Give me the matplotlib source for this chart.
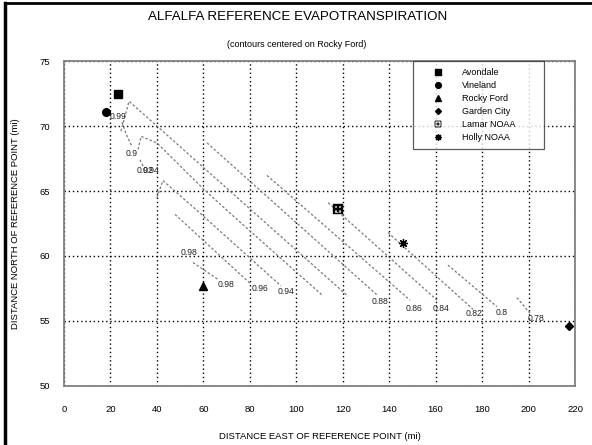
import numpy as np
import matplotlib
matplotlib.use("Agg")
from matplotlib import pyplot as plt
from matplotlib.lines import Line2D

plt.rcParams['font.family'] = ['Liberation Sans', 'DejaVu Sans']

# station locations (mi east, mi north of reference point)
stations = ["Avondale", "Vineland", "Rocky Ford", "Garden City", "Lamar NOAA", "Holly NOAA"]
station_x = [23.3, 18.0, 60.0, 217.5, 118.0, 146.0]
station_y = [72.5, 71.1, 57.7, 54.6, 63.6, 61.0]

# contour traces, top-left to bottom-right
contour_x = [
    [24.5, 28.0, 40.0, 122.3],          # outer hook
    [31.9, 33.2, 40.0, 59.8, 70.2, 111.1],
    [40.0, 42.6, 57.3, 93.4],           # 0.94
    [47.8, 80.1],                       # 0.96
    [55.5, 66.3],                       # 0.98
    [61.6, 134.8],                      # 0.88
    [87.4, 149.0],                      # 0.86
    [113.7, 160.6],                     # 0.84
    [139.5, 176.1],                     # 0.82
    [165.3, 186.4],                     # 0.8
    [195.0, 200.6],                     # 0.78
    [25.0, 26.7, 29.3],                 # short ticks near the hooks
    [32.7, 34.4],
]
contour_y = [
    [69.6, 71.9, 70.0, 56.9],
    [68.2, 69.2, 68.7, 65.2, 63.5, 57.0],
    [64.5, 65.8, 63.5, 57.7],
    [63.2, 57.9],
    [59.5, 58.2],
    [68.7, 57.0],
    [66.2, 56.6],
    [64.1, 56.6],
    [61.8, 55.9],
    [59.3, 56.1],
    [56.8, 55.6],
    [70.3, 69.4, 68.4],
    [67.4, 66.8],
]

# contour labels: text, trace index, point index, offset in points
labels = [
    ("0.98", 4, -1, 6, -4), ("0.98", 4, 0, -3, 7),
    ("0.96", 3, -1, 7, -4), ("0.94", 2, -1, 4, -4),
    ("0.88", 5, -1, 2, -5), ("0.86", 6, -1, 3, -6),
    ("0.84", 7, -1, 3, -6), ("0.82", 8, -1, 1, -3),
    ("0.8", 9, -1, 3, -4), ("0.78", 10, -1, 4, -4),
    ("0.99", 11, 0, -3, 4), ("0.9", 11, -1, 0, -5),
    ("0.92", 12, -1, 1, -2), ("0.94", 12, -1, 5, -2),
]

fig = plt.figure(figsize=(5.92, 4.45), dpi=100)
ax = fig.add_axes([0.1081, 0.1326, 0.8632, 0.7303])

for xs, ys in zip(contour_x, contour_y):
    ax.plot(xs, ys, color="#7a7a7a", ls=(0, (2, 1.6)), lw=0.9, zorder=3)
for txt, ci, pi, dx, dy in labels:
    ax.annotate(txt, (contour_x[ci][pi], contour_y[ci][pi]), xytext=(dx, dy),
                textcoords="offset points", ha="center", va="center", fontsize=6.2,
                color="#222222", zorder=4)

styles = [
    dict(marker="s", ms=5.5),
    dict(marker="o", ms=5.5),
    dict(marker="^", ms=5.5),
    dict(marker="D", ms=4),
    dict(marker="$\u229e$", ms=6.5, mew=0.3),
    dict(marker=(8, 2, 0), ms=6.5, mew=0.9),
]
handles = []
for i in range(len(stations)):
    ax.plot(station_x[i], station_y[i], color="black", ls="none", zorder=5, **styles[i])
    st = dict(styles[i])
    st["ms"] = st["ms"] * 0.75
    handles.append(Line2D([], [], color="black", ls="none", label=stations[i], **st))

ax.set_xlim(0, 220)
ax.set_ylim(50, 75)
ax.set_xticks(np.arange(0, 221, 20))
ax.set_yticks(np.arange(50, 76, 5))
ax.grid(True, color="black", ls=(0, (1, 2)), lw=1.0)
ax.tick_params(length=0, labelsize=6.8)
ax.tick_params(axis="x", pad=14)
ax.tick_params(axis="y", pad=10)
for s in ax.spines.values():
    s.set_color("#808080")
    s.set_linewidth(1.3)

fig.text(0.54, 0.018, "DISTANCE EAST OF REFERENCE POINT (mi)", ha="center", va="center", fontsize=6.8)
fig.text(0.027, 0.498, "DISTANCE NORTH OF REFERENCE POINT (mi)", ha="center", va="center",
         rotation=90, fontsize=6.8)
fig.text(0.503, 0.962, "ALFALFA REFERENCE EVAPOTRANSPIRATION", ha="center", va="center", fontsize=9.6)
fig.text(0.502, 0.901, "(contours centered on Rocky Ford)", ha="center", va="center", fontsize=6.5)

leg = ax.legend(handles=handles, loc="upper left", bbox_to_anchor=(0.683, 0.735, 0.256, 0.265),
                mode="expand", fontsize=6.5, frameon=True, fancybox=False, edgecolor="#333333",
                borderpad=0.75, labelspacing=0.45, handlelength=4.0, handletextpad=0.7,
                borderaxespad=0)
leg.get_frame().set_linewidth(0.9)
leg.set_zorder(6)

# page border at top and left
fig.add_artist(Line2D([0.008, 0.008], [0, 0.993], color="black", lw=2.5))
fig.add_artist(Line2D([0.008, 1], [0.993, 0.993], color="black", lw=2))

fig.savefig("out.png", dpi=100)
